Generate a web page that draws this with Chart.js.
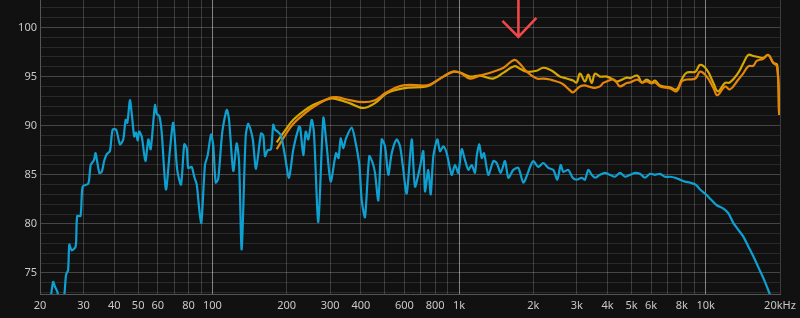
<!DOCTYPE html>
<html>
<head>
<meta charset="utf-8">
<script src="https://cdn.jsdelivr.net/npm/chart.js@4/dist/chart.umd.min.js"></script>
<style>
  html, body { margin: 0; padding: 0; background: #111111; }
  canvas { display: block; }
</style>
</head>
<body>
<canvas id="fr" width="800" height="318"></canvas>
<script>
// frequency (Hz), level (dB)
const blueSeries = [
  [22.0,72.0],[22.6,74.1],[23.0,73.6],[23.5,73.1],[24.1,72.0],[25.0,72.5],[25.5,74.8],[26.0,75.3],
  [26.3,77.9],[26.9,77.3],[27.9,77.7],[28.3,80.8],[29.2,80.8],[29.8,83.8],[31.4,84.1],[32.1,86.0],
  [33.1,86.5],[33.6,87.2],[34.8,85.2],[35.6,85.3],[36.4,86.4],[37.3,87.1],[38.4,87.4],[39.4,89.6],
  [40.7,89.6],[42.2,88.1],[43.5,88.6],[44.5,90.6],[45.2,90.3],[46.3,92.6],[47.2,91.0],[48.2,88.9],
  [49.0,89.3],[49.8,88.5],[50.5,89.4],[51.7,88.9],[53.5,86.4],[55.0,88.6],[56.2,87.6],[58.5,92.1],
  [59.5,91.2],[60.9,91.0],[62.3,89.3],[64.8,83.5],[67.3,87.6],[69.4,90.3],[72.0,85.5],[74.6,84.0],
  [76.9,88.1],[78.7,87.7],[79.8,85.7],[82.4,85.8],[84.4,84.8],[86.4,84.0],[88.5,81.4],[90.2,80.1],
  [93.3,86.0],[95.7,87.0],[98.7,89.1],[100.8,88.0],[103.1,84.2],[105.6,84.6],[109.7,89.4],[114.3,91.6],
  [116.7,90.7],[121.5,85.4],[125.4,88.2],[128.2,86.4],[131.4,77.4],[136.4,88.9],[139.8,90.2],[145.6,88.7],
  [150.2,85.6],[157.4,89.2],[160.8,89.0],[163.4,86.9],[167.5,87.5],[172.8,87.6],[176.5,90.1],[179.4,89.6],
  [183.9,89.4],[189.7,89.0],[196.9,86.9],[204.4,84.7],[212.8,87.6],[224.4,89.9],[227,89.8],[233.6,87.0],
  [238.9,89.4],[244.8,88.6],[252.6,90.6],[258,89.3],[268.8,80.2],[281.6,90.8],[290.7,87.9],[301.7,84.3],
  [317,87.2],[324.5,86.7],[331.2,88.7],[339.3,87.7],[348,88.7],[367,89.8],[378.5,88.6],[394.1,86.0],
  [403,82.4],[415.6,80.7],[432.5,86.9],[446.5,86.2],[456.2,85.2],[470.5,82.4],[485.7,88.6],[500.8,87.9],
  [516.5,85.0],[533.2,87.2],[558.7,88.6],[576.2,87.9],[590.9,86.0],[613.4,83.1],[642.7,88.6],[662.8,83.8],
  [694.3,85.8],[716.1,87.4],[727.6,83.3],[750.4,85.5],[767.4,83.0],[786.4,86.9],[816.2,88.6],[837,87.4],
  [863,87.9],[890.9,87.2],[933.3,85.0],[962.6,86.0],[992.7,85.2],[1025,87.6],[1057,86.5],[1090,85.5],
  [1125,86.0],[1160,85.2],[1179,86.9],[1208,88.1],[1235,86.7],[1262,87.2],[1314,85.0],[1377,86.4],
  [1421,86.2],[1475,85.2],[1535,86.4],[1584,84.7],[1659,85.5],[1739,85.7],[1822,84.2],[1908,85.3],
  [1939,85.8],[1999,86.4],[2095,85.8],[2195,86.2],[2300,85.7],[2410,85.5],[2502,84.5],[2582,86.0],
  [2646,85.3],[2772,85.5],[2888,84.7],[2998,84.5],[3141,84.7],[3239,84.5],[3340,85.5],[3448,85.0],
  [3557,84.7],[3726,85.0],[3904,85.2],[4091,85.0],[4287,84.8],[4491,85.2],[4706,84.8],[4932,85.0],
  [5167,85.2],[5413,85.1],[5672,84.7],[5943,85.1],[6228,85.0],[6525,85.1],[6838,84.8],[7165,84.8],
  [7507,84.7],[7866,84.5],[8242,84.3],[8634,84.2],[9106,84.0],[9481,83.5],[10024,83.0],[10572,82.4],
  [11078,81.9],[11716,81.6],[12343,81.1],[12935,80.1],[13553,79.4],[14202,78.7],[14878,77.7],[15592,76.7],
  [16332,75.6],[17113,74.5],[17764,73.5],[18218,72.8],[18800,72.0]
];

const yellowSeries = [
  [182.2,88.3],[196.9,89.5],[212.8,90.6],[241,91.7],[260.6,92.2],[300,92.75],[318.6,92.7],[360,92.3],
  [409,91.8],[456,92.3],[509,93.3],[593,93.8],[739,94.0],[786,94.35],[863,95.0],[947,95.5],
  [1009,95.4],[1107,95.0],[1215,95.1],[1376,94.8],[1515,95.4],[1673,96.05],[1765,95.8],[1880,95.5],
  [2064,95.6],[2195,95.9],[2337,95.7],[2410,95.5],[2565,95.0],[2646,94.9],[2816,94.7],[2897,94.6],
  [2998,94.4],[3091,95.3],[3239,94.5],[3340,95.2],[3448,94.35],[3557,95.3],[3726,95.0],[3843,95.0],
  [3968,95.0],[4219,94.7],[4355,94.5],[4491,94.6],[4784,94.9],[4932,94.85],[5283,95.1],[5504,94.4],
  [5763,94.7],[6037,94.4],[6228,94.6],[6525,94.1],[7165,93.9],[7626,93.7],[7990,94.7],[8372,95.4],
  [9080,95.5],[9481,96.2],[10095,95.7],[10740,94.35],[11200,93.5],[11968,94.35],[12540,94.4],[13553,95.4],
  [14170,96.3],[14878,97.2],[15592,97.1],[16332,97.0],[17060,96.9],[17930,97.2],[18780,96.4],[19480,96.2],
  [19840,91.1]
];

const orangeSeries = [
  [182.2,87.6],[196.9,89.0],[212.8,90.2],[241,91.4],[260.6,92.0],[300,92.85],[318.6,92.9],[360,92.6],
  [409,92.4],[456,92.6],[509,93.4],[593,94.1],[739,94.1],[786,94.35],[863,95.0],[947,95.5],
  [1009,95.4],[1107,94.8],[1215,95.1],[1376,95.5],[1515,95.9],[1673,96.7],[1765,96.3],[1880,95.5],
  [2064,94.8],[2195,94.8],[2337,94.7],[2410,94.6],[2565,94.4],[2646,94.2],[2816,93.6],[2897,93.4],
  [2998,93.7],[3091,94.0],[3239,94.1],[3340,94.0],[3448,93.9],[3557,93.85],[3726,94.0],[3843,94.35],
  [3968,94.5],[4219,94.7],[4355,94.4],[4491,94.0],[4784,94.35],[4932,94.4],[5283,94.7],[5504,94.4],
  [5763,94.5],[6037,94.3],[6228,94.4],[6525,94.0],[7165,93.8],[7626,93.5],[7990,94.5],[8372,94.7],
  [9080,94.8],[9481,95.5],[10095,95.0],[10740,93.85],[11140,93.1],[11968,94.0],[12540,93.7],[13553,94.7],
  [14170,95.3],[14878,96.05],[15592,96.1],[16083,96.6],[17060,96.8],[17930,97.2],[18780,96.4],[19480,96.0],
  [19840,91.1]
];

const gridFreqs = [20,30,40,50,60,70,80,90,100,200,300,400,500,600,700,800,900,
  1000,2000,3000,4000,5000,6000,7000,8000,9000,10000,20000];
const labelFreqs = [20,30,40,50,60,80,100,200,300,400,600,800,1000,2000,3000,4000,5000,6000,8000,10000,20000];
const labelTexts = ['20','30','40','50','60','80','100','200','300','400','600','800','1k','2k','3k','4k','5k','6k','8k','10k','20kHz'];
const decadeFreqs = [100,1000,10000];

const dbMin = 72.86;
const dbMax = 102.8;
const dbTicks = [73,74,75,76,77,78,79,80,81,82,83,84,85,86,87,88,89,90,91,92,93,94,95,96,97,98,99,100,101,102];

const arrowFreq = 1740;
const arrowTipDb = 99.05;

const toPoints = s => s.map(p => ({ x: p[0], y: p[1] }));

const arrowPlugin = {
  id: 'arrow',
  afterDatasetsDraw(chart) {
    const c = chart.ctx;
    const x = chart.scales.x.getPixelForValue(arrowFreq);
    const y = chart.scales.y.getPixelForValue(arrowTipDb);
    c.save();
    c.strokeStyle = '#f04848';
    c.lineWidth = 2.6;
    c.beginPath();
    c.moveTo(x, 0);
    c.lineTo(x, y);
    c.moveTo(x - 16, y - 16);
    c.lineTo(x, y);
    c.lineTo(x + 18, y - 19);
    c.stroke();
    c.restore();
  }
};

new Chart(document.getElementById('fr'), {
  type: 'line',
  data: {
    datasets: [
      {
        data: toPoints(blueSeries),
        borderColor: '#0fa0d2',
        borderWidth: 2.2,
        pointRadius: 0,
        tension: 0.25,
        clip: 0
      },
      {
        data: toPoints(orangeSeries),
        borderColor: '#e4860a',
        borderWidth: 2.2,
        pointRadius: 0,
        tension: 0.4,
        clip: 0
      },
      {
        data: toPoints(yellowSeries),
        borderColor: '#d8a800',
        borderWidth: 2.2,
        pointRadius: 0,
        tension: 0.4,
        clip: 0
      }
    ]
  },
  options: {
    responsive: false,
    animation: false,
    devicePixelRatio: 1,
    layout: { padding: { left: 0, right: 20, top: 0, bottom: 0 } },
    plugins: { legend: { display: false }, tooltip: { enabled: false } },
    scales: {
      x: {
        type: 'logarithmic',
        min: 20,
        max: 20000,
        afterFit: s => { s.height = 24; s.paddingLeft = 0; s.paddingRight = 0; },
        afterBuildTicks: s => { s.ticks = gridFreqs.map(v => ({ value: v })); },
        border: { color: '#555555', width: 1 },
        grid: {
          drawTicks: false,
          color: ctx => decadeFreqs.includes(ctx.tick.value) ? 'rgba(255,255,255,0.48)' : 'rgba(255,255,255,0.18)'
        },
        ticks: {
          autoSkip: false,
          maxRotation: 0,
          padding: 5,
          color: '#c8c8c8',
          font: { family: 'Noto Sans', size: 11 },
          callback: v => {
            const i = labelFreqs.indexOf(v);
            return i >= 0 ? labelTexts[i] : '';
          }
        }
      },
      y: {
        min: dbMin,
        max: dbMax,
        afterFit: s => { s.width = 40; s.paddingTop = 0; s.paddingBottom = 0; },
        afterBuildTicks: s => { s.ticks = dbTicks.map(v => ({ value: v })); },
        border: { color: '#555555', width: 1 },
        grid: {
          drawTicks: false,
          color: ctx => ctx.tick.value % 5 === 0 ? 'rgba(255,255,255,0.22)' : 'rgba(255,255,255,0.1)'
        },
        ticks: {
          autoSkip: false,
          padding: 3,
          color: '#c8c8c8',
          font: { family: 'Noto Sans', size: 11 },
          callback: v => v % 5 === 0 ? String(v) : ''
        }
      }
    }
  },
  plugins: [arrowPlugin]
});
</script>
</body>
</html>
